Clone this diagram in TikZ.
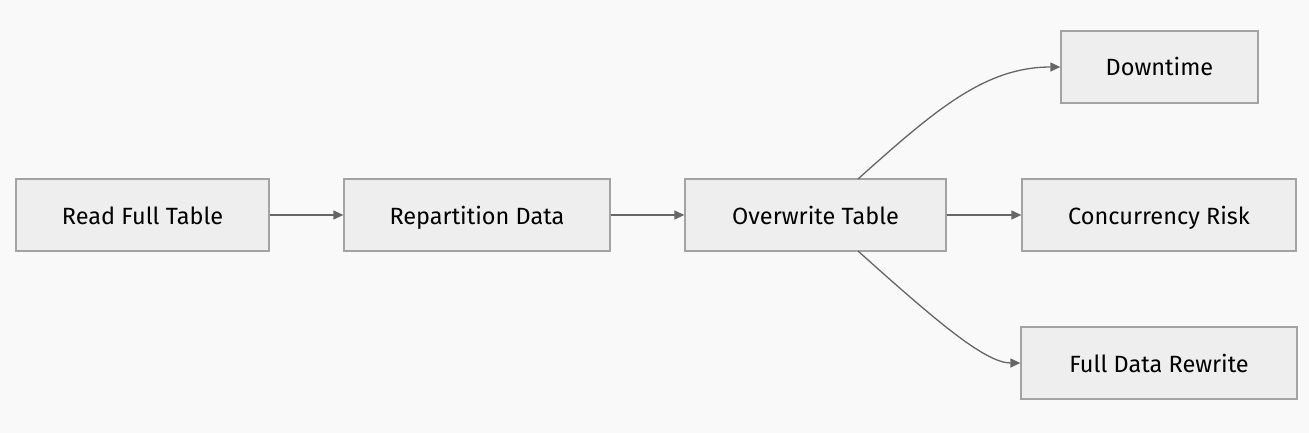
\documentclass[tikz,border=0pt]{standalone}
\usepackage{fontspec}
\setmainfont{Fira Sans}
\definecolor{bgcol}{HTML}{F9F9F9}
\definecolor{boxfill}{HTML}{EEEEEE}
\definecolor{boxline}{HTML}{A3A3A3}
\definecolor{arrowcol}{HTML}{666666}
\usetikzlibrary{arrows.meta}
\begin{document}
\begin{tikzpicture}[x=1pt,y=-1pt,
    box/.style={draw=boxline,fill=boxfill,line width=1.3pt,minimum height=72pt,inner sep=0pt,text height=20pt,text depth=2pt,font=\fontsize{23.5}{28}\selectfont},
    flow/.style={draw=arrowcol,line width=1.3pt,-{Triangle[length=10pt,width=9pt]}}]

    \fill[bgcol] (0,0) rectangle (1309,433);

    \node[box,minimum width=253pt] (read) at (142.5,215) {Read Full Table};
    \node[box,minimum width=266pt] (repart) at (477,215) {Repartition Data};
    \node[box,minimum width=261pt] (overwrite) at (815.5,215) {Overwrite Table};
    \node[box,minimum width=197pt] (down) at (1159.5,67) {Downtime};
    \node[box,minimum width=274pt] (risk) at (1159,215) {Concurrency Risk};
    \node[box,minimum width=276pt] (rewrite) at (1159,363) {Full Data Rewrite};

    \draw[flow] (read) -- (repart);
    \draw[flow] (repart) -- (overwrite);
    \draw[flow] (overwrite) -- (risk);
    \coordinate (otop) at (858,179);
    \coordinate (obot) at (858,251);
    \draw[flow] (otop) .. controls (935,110) and (985,67) .. (down.west);
    \draw[flow] (obot) .. controls (935,320) and (985,363) .. (rewrite.west);
\end{tikzpicture}
\end{document}
